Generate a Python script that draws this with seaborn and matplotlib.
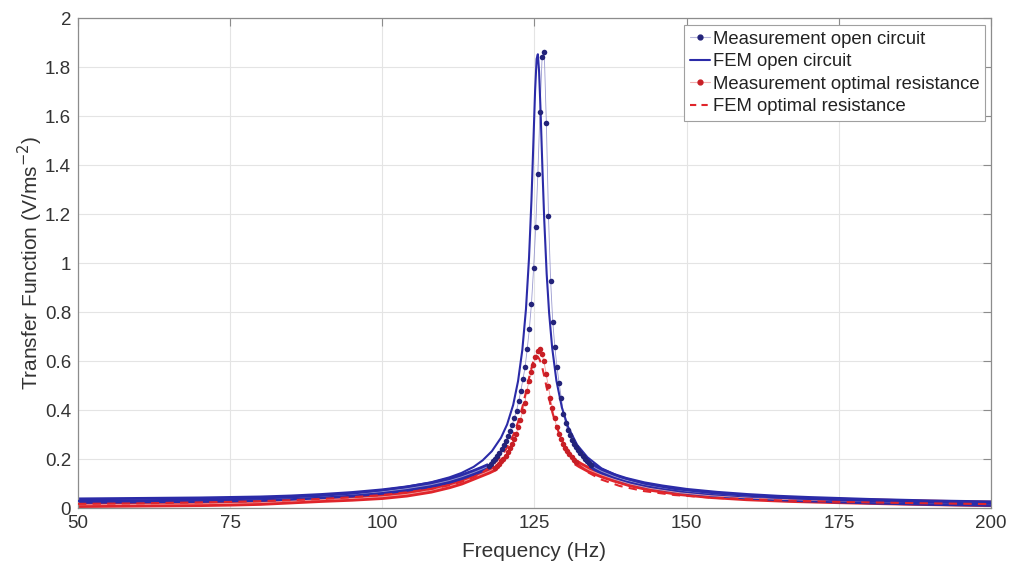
import matplotlib
matplotlib.use("Agg")
import matplotlib.pyplot as plt
import seaborn as sns
import pandas as pd
import numpy as np
from matplotlib.lines import Line2D

# ---------------- data ----------------
fem_freq = [50, 55, 60, 65, 70, 75, 80, 85, 90, 95, 100, 104, 108, 111, 113, 115,
            116.5, 118, 119.5, 120.5, 121.5, 122.3, 123, 123.6, 124.1, 124.5, 124.8,
            125.1, 125.35, 125.55, 125.75, 126.0, 126.3, 126.6, 127.0, 127.4, 127.9,
            128.6, 129.5, 130.5, 132, 133.7, 136, 139, 143, 148, 155, 165, 175, 187, 200]
fem_open = [0.029, 0.030, 0.031, 0.033, 0.034, 0.036, 0.039, 0.044, 0.050, 0.059, 0.073,
            0.087, 0.105, 0.125, 0.143, 0.168, 0.195, 0.232, 0.287, 0.341, 0.421, 0.518,
            0.645, 0.812, 1.02, 1.256, 1.479, 1.704, 1.833, 1.852, 1.784, 1.62, 1.387,
            1.177, 0.956, 0.797, 0.655, 0.52, 0.41, 0.332, 0.258, 0.207, 0.162, 0.128,
            0.100, 0.078, 0.059, 0.042, 0.032, 0.024, 0.018]
fem_opt = [0.017, 0.018, 0.019, 0.021, 0.023, 0.025, 0.028, 0.032, 0.037, 0.044, 0.053,
           0.064, 0.078, 0.093, 0.107, 0.126, 0.146, 0.172, 0.211, 0.247, 0.297, 0.351,
           0.411, 0.474, 0.530, 0.571, 0.598, 0.617, 0.620, 0.618, 0.610, 0.596, 0.571,
           0.538, 0.492, 0.446, 0.393, 0.334, 0.276, 0.230, 0.182, 0.147, 0.116, 0.090,
           0.069, 0.053, 0.041, 0.031, 0.025, 0.020, 0.016]

meas_open_freq = [50, 55, 60, 65, 70, 75, 80, 85, 90, 95, 100, 104, 108, 111, 113, 115,
                  116.5, 117.5, 117.85, 118.2, 118.55, 118.9, 119.25, 119.6, 119.95, 120.3,
                  120.65, 121.0, 121.35, 121.7, 122.05, 122.4, 122.75, 123.1, 123.45, 123.8,
                  124.15, 124.5, 124.85, 125.2, 125.55, 125.9, 126.25, 126.6, 126.95, 127.3,
                  127.65, 128.0, 128.35, 128.7, 129.05, 129.4, 129.75, 130.1, 130.45, 130.8,
                  131.15, 131.5, 131.85, 132.2, 132.55, 132.9, 133.25, 133.6, 133.95, 134.3,
                  135, 136, 138, 140, 143, 146, 150, 155, 160, 165, 170, 175, 180, 185,
                  190, 195, 200]
meas_open = [0.030, 0.031, 0.032, 0.033, 0.034, 0.036, 0.038, 0.042, 0.048, 0.056, 0.067,
             0.079, 0.095, 0.112, 0.127, 0.145, 0.160, 0.171, 0.180, 0.190, 0.201, 0.213,
             0.226, 0.240, 0.256, 0.273, 0.293, 0.315, 0.340, 0.368, 0.398, 0.435, 0.478,
             0.525, 0.574, 0.648, 0.729, 0.833, 0.978, 1.146, 1.363, 1.618, 1.84, 1.862,
             1.57, 1.19, 0.928, 0.76, 0.656, 0.574, 0.509, 0.45, 0.385, 0.345, 0.318,
             0.296, 0.278, 0.262, 0.248, 0.235, 0.223, 0.212, 0.202, 0.193, 0.184, 0.176,
             0.163, 0.150, 0.130, 0.114, 0.096, 0.083, 0.069, 0.057, 0.048, 0.041, 0.036,
             0.032, 0.028, 0.025, 0.022, 0.020, 0.018]

meas_opt_freq = [50, 55, 60, 65, 70, 75, 80, 85, 90, 95, 100, 104, 108, 111, 113, 115,
                 116.5, 117.5, 118.5, 118.85, 119.2, 119.55, 119.9, 120.25, 120.6, 120.95,
                 121.3, 121.65, 122.0, 122.35, 122.7, 123.05, 123.4, 123.75, 124.1, 124.45,
                 124.8, 125.15, 125.5, 125.85, 126.2, 126.55, 126.9, 127.25, 127.6, 127.95,
                 128.3, 128.65, 129.0, 129.35, 129.7, 130.05, 130.4, 130.75, 131.1, 131.45,
                 131.8, 132.5, 134, 136, 138, 140.7, 144, 148.9, 154, 159.9, 167, 175, 182,
                 190, 200]
meas_opt = [0.013, 0.014, 0.015, 0.016, 0.017, 0.019, 0.022, 0.028, 0.034, 0.039, 0.046,
            0.056, 0.072, 0.090, 0.105, 0.125, 0.140, 0.150, 0.162, 0.170, 0.180, 0.190,
            0.201, 0.214, 0.228, 0.244, 0.262, 0.282, 0.303, 0.330, 0.360, 0.395, 0.428,
            0.478, 0.52, 0.556, 0.584, 0.615, 0.640, 0.648, 0.630, 0.600, 0.548, 0.500,
            0.450, 0.408, 0.366, 0.330, 0.302, 0.280, 0.262, 0.246, 0.232, 0.219, 0.207,
            0.196, 0.186, 0.175, 0.155, 0.135, 0.118, 0.098, 0.080, 0.062, 0.050, 0.041,
            0.034, 0.029, 0.025, 0.021, 0.017]

x_ticks = [50, 75, 100, 125, 150, 175, 200]
y_ticks = [0, 0.2, 0.4, 0.6, 0.8, 1.0, 1.2, 1.4, 1.6, 1.8, 2.0]
y_tick_labels = ["0", "0.2", "0.4", "0.6", "0.8", "1", "1.2", "1.4", "1.6", "1.8", "2"]
series_labels = ["Measurement open circuit", "FEM open circuit",
                 "Measurement optimal resistance", "FEM optimal resistance"]

# ---------------- styling ----------------
BLUE = "#2b2ba8"
BLUE_DOT = "#23237a"
RED = "#e0252b"
RED_DOT = "#c81e25"

sns.set_theme(style="white")
plt.rcParams["font.family"] = ["Liberation Sans", "DejaVu Sans"]

fig = plt.figure(figsize=(10.1, 5.68), dpi=100)
ax = fig.add_axes([0.0772, 0.1056, 0.9040, 0.8627])

fem_df = pd.DataFrame({"f": fem_freq, "open": fem_open, "opt": fem_opt})
mo = pd.DataFrame({"f": meas_open_freq, "v": meas_open})
mr = pd.DataFrame({"f": meas_opt_freq, "v": meas_opt})

# dense measurement tails appear as thick bands (red first so blue sits on top)
bands = [(mr, RED, 118.5, 131.8), (mo, BLUE, 117.5, 134.3)]
for df, col, lo, hi in bands:
    for part in (df[df.f <= lo], df[df.f >= hi]):
        ax.plot(part.f.values, part.v.values, color=col, lw=4.6,
                solid_capstyle="butt", solid_joinstyle="round", zorder=2)

# faint connecting lines of measurements
sns.lineplot(data=mo, x="f", y="v", ax=ax, color="#9a9ad0", lw=0.6, sort=False, estimator=None)
sns.lineplot(data=mr, x="f", y="v", ax=ax, color="#f0a0a0", lw=0.6, sort=False, estimator=None)

# FEM curves
sns.lineplot(data=fem_df, x="f", y="open", ax=ax, color=BLUE, lw=1.5, sort=False,
             estimator=None, zorder=3)
sns.lineplot(data=fem_df, x="f", y="opt", ax=ax, color=RED, lw=1.5, sort=False,
             estimator=None, linestyle=(0, (4, 3)), zorder=3)

# measurement dots (resolved individually only around the resonance)
for df, col, lo, hi in [(mo, BLUE_DOT, 117.5, 134.3), (mr, RED_DOT, 118.5, 131.8)]:
    pk = df[(df.f > lo - 0.01) & (df.f < hi + 0.01)]
    sns.scatterplot(data=pk, x="f", y="v", ax=ax, color=col, s=16, linewidth=0, zorder=5)

# axes
ax.set_xlim(50, 200)
ax.set_ylim(0, 2)
ax.set_xticks(x_ticks)
ax.set_xticklabels([str(t) for t in x_ticks])
ax.set_yticks(y_ticks)
ax.set_yticklabels(y_tick_labels)
ax.grid(True, color="#e4e4e4", lw=0.8)
ax.set_axisbelow(True)
for s in ax.spines.values():
    s.set_visible(True)
    s.set_color("#8c8c8c")
    s.set_linewidth(0.9)
ax.tick_params(direction="in", length=6, width=0.8, color="#8c8c8c",
               top=True, right=True, labelsize=13.5, labelcolor="#333333", pad=5)
ax.set_xlabel("Frequency (Hz)", fontsize=15, color="#333333", labelpad=7)
ax.set_ylabel("Transfer Function (V/ms$^{-2}$)", fontsize=15, color="#333333", labelpad=0)

handles = [
    Line2D([], [], color="#b8b8dc", lw=0.8, marker=".", markersize=7,
           markerfacecolor=BLUE_DOT, markeredgecolor=BLUE_DOT),
    Line2D([], [], color=BLUE, lw=1.5),
    Line2D([], [], color="#f2b0b0", lw=0.8, marker=".", markersize=7,
           markerfacecolor=RED_DOT, markeredgecolor=RED_DOT),
    Line2D([], [], color=RED, lw=1.5, linestyle=(0, (3, 2.5))),
]
leg = ax.legend(handles, series_labels, loc="upper right", bbox_to_anchor=(0.9934, 0.9857),
                fontsize=13.3, frameon=True, fancybox=False, framealpha=1,
                edgecolor="#a0a0a0", borderpad=0.3, handlelength=1.1, handletextpad=0.15,
                labelspacing=0.3, borderaxespad=0.0)
leg.get_frame().set_linewidth(0.8)
for t in leg.get_texts():
    t.set_color("#222222")

fig.savefig("out.png", dpi=100)
